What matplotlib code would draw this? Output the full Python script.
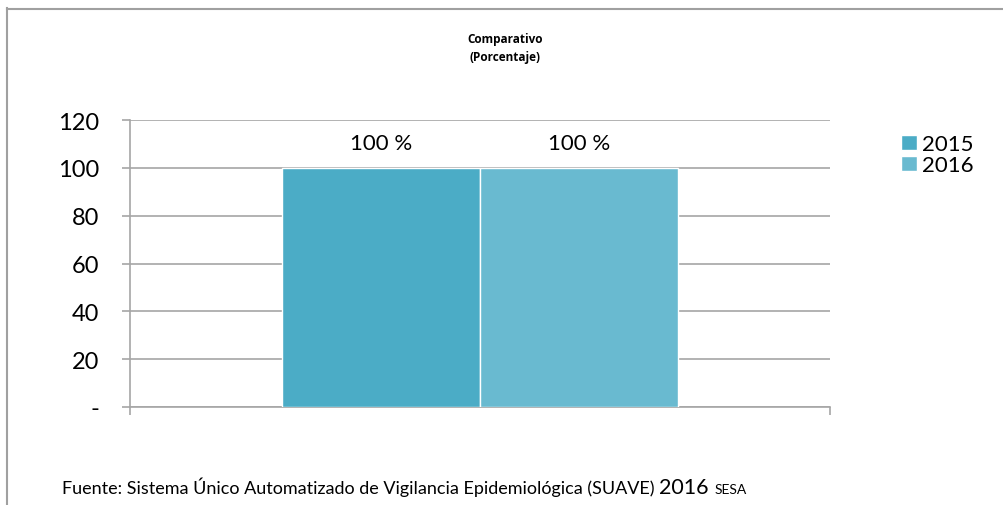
import matplotlib
matplotlib.use("Agg")
import matplotlib.pyplot as plt
from matplotlib.lines import Line2D
from matplotlib.transforms import IdentityTransform

plt.rcParams['font.family'] = ['Lato', 'DejaVu Sans']

# data
years = ['2015', '2016']
values = [100, 100]
labels = ['100 %', '100 %']
y_ticks = [0, 20, 40, 60, 80, 100, 120]
y_tick_labels = ['-', '20', '40', '60', '80', '100', '120']
colors = ['#4BACC6', '#69BAD0']
grid_col = '#A6A6A6'

fig = plt.figure(figsize=(10.04, 5.06), dpi=100)
ax = fig.add_axes([130/1004, 1 - 408/506, 700/1004, 287/506])

width = 0.283
offsets = [-width/2, width/2]
for yr, v, lab, off, c in zip(years, values, labels, offsets, colors):
    ax.bar(off, v, width=width, color=c, edgecolor='white', linewidth=1.0,
           label=yr, zorder=3)
    ax.text(off, v + 10.5, lab, ha='center', va='center', fontsize=16, color='#000000')

ax.set_xlim(-0.5, 0.5)
ax.set_ylim(0, 120)
ax.set_yticks(y_ticks)
ax.set_yticklabels(y_tick_labels, fontsize=17)
ax.set_xticks([-0.5, 0.5])
ax.set_xticklabels(['', ''])
ax.tick_params(axis='y', length=6, color=grid_col, width=1.2, pad=16)
ax.tick_params(axis='x', length=6, color=grid_col, width=1.2)
ax.grid(axis='y', color=grid_col, linewidth=1.2, zorder=0)
for s in ['top', 'right']:
    ax.spines[s].set_visible(False)
for s in ['left', 'bottom']:
    ax.spines[s].set_color(grid_col)
    ax.spines[s].set_linewidth(1.2)

fig.text(505/1004, 1 - 40/506, 'Comparativo', ha='center', va='center',
         fontsize=8.5, fontweight='bold', family=['Open Sans', 'DejaVu Sans'])
fig.text(505/1004, 1 - 57/506, '(Porcentaje)', ha='center', va='center',
         fontsize=8.5, fontweight='bold', family=['Open Sans', 'DejaVu Sans'])

fig.legend(loc='upper left', bbox_to_anchor=(890/1004, 1 - 124/506),
           frameon=False, fontsize=16, handlelength=0.7, handleheight=0.7,
           handletextpad=0.25, labelspacing=0.05, borderpad=0)

# footer, in three sizes
base_y = (1 - 494/506) * 506
t1 = fig.text(62, base_y,
              'Fuente: Sistema Único Automatizado de Vigilancia Epidemiológica (SUAVE) ',
              fontsize=13, va='baseline', ha='left', transform=IdentityTransform())
fig.canvas.draw()
r = fig.canvas.get_renderer()
bb1 = t1.get_window_extent(r)
t2 = fig.text(bb1.x1, base_y, '2016 ', fontsize=15.5, va='baseline', ha='left',
              transform=IdentityTransform())
fig.canvas.draw()
bb2 = t2.get_window_extent(r)
fig.text(bb2.x1, base_y, 'SESA', fontsize=10, va='baseline', ha='left',
         transform=IdentityTransform())

# chart border (left and top edges visible)
fig.add_artist(Line2D([6.5/1004, 6.5/1004], [0, 1 - 9/506], color='#A0A0A0',
                      linewidth=1.5, transform=fig.transFigure))
fig.add_artist(Line2D([6.5/1004, 1], [1 - 9.5/506, 1 - 9.5/506], color='#A0A0A0',
                      linewidth=1.5, transform=fig.transFigure))

fig.savefig('out.png', dpi=100)
